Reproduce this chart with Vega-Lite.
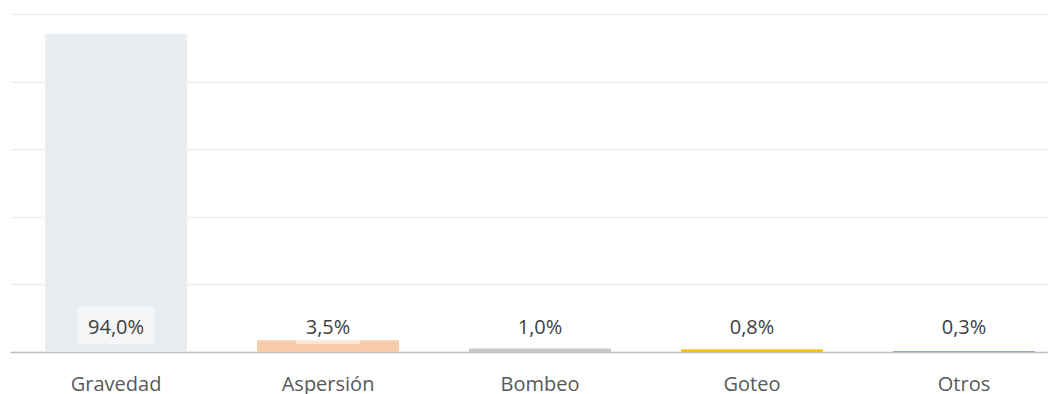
{
  "$schema": "https://vega.github.io/schema/vega-lite/v6.json",
  "width": 1037,
  "height": 338,
  "autosize": {"type": "none"},
  "padding": {"left": 10, "top": 14, "right": 12, "bottom": 42},
  "background": "#ffffff",
  "config": {
    "view": {"stroke": null},
    "font": "Open Sans",
    "locale": {"number": {"decimal": ",", "thousands": ".", "grouping": [3], "currency": ["", " €"]}}
  },
  "data": {
    "values": [
      {"metodo": "Gravedad", "valor": 0.940},
      {"metodo": "Aspersión", "valor": 0.035},
      {"metodo": "Bombeo", "valor": 0.010},
      {"metodo": "Goteo", "valor": 0.008},
      {"metodo": "Otros", "valor": 0.003}
    ]
  },
  "encoding": {
    "x": {
      "field": "metodo",
      "type": "nominal",
      "sort": null,
      "scale": {"paddingInner": 0.33, "paddingOuter": 0.111, "align": 0.745},
      "axis": {
        "title": null,
        "labelAngle": 0,
        "ticks": false,
        "domain": true,
        "domainColor": "#BFBFBF",
        "domainWidth": 1.5,
        "labelFont": "Open Sans",
        "labelFontSize": 20,
        "labelColor": "#595959",
        "labelPadding": 22,
        "grid": false
      }
    }
  },
  "layer": [
    {
      "mark": {"type": "bar"},
      "encoding": {
        "y": {
          "field": "valor",
          "type": "quantitative",
          "scale": {"domain": [0, 1], "nice": false},
          "axis": {
            "title": null,
            "labels": false,
            "ticks": false,
            "domain": false,
            "values": [0, 0.2, 0.4, 0.6, 0.8, 1.0],
            "grid": true,
            "gridColor": "#EDEDED",
            "gridWidth": 1.5
          }
        },
        "color": {
          "field": "metodo",
          "type": "nominal",
          "legend": null,
          "scale": {
            "domain": ["Gravedad", "Aspersión", "Bombeo", "Goteo", "Otros"],
            "range": ["#E9ECF1", "#F8CBAD", "#C9C9C9", "#FFC000", "#8EA9DB"]
          }
        }
      }
    },
    {
      "mark": {"type": "bar", "color": "#ffffff", "opacity": 0.5},
      "encoding": {
        "y": {"datum": 0.1331, "type": "quantitative"},
        "y2": {"datum": 0.0237},
        "size": {
          "field": "valor",
          "type": "quantitative",
          "legend": null,
          "scale": {"type": "threshold", "domain": [0.1], "range": [64, 76]}
        }
      }
    },
    {
      "mark": {"type": "text", "baseline": "alphabetic", "align": "center", "fontSize": 20, "color": "#404040", "font": "Open Sans"},
      "encoding": {
        "y": {"datum": 0.0533, "type": "quantitative"},
        "text": {"field": "valor", "type": "quantitative", "format": ".1%"}
      }
    }
  ]
}
